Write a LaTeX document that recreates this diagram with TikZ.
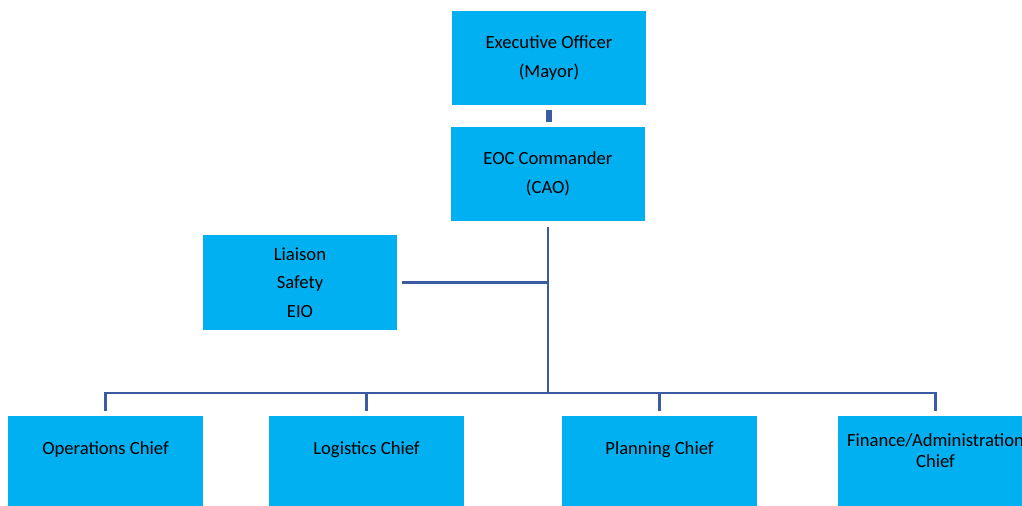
\documentclass[tikz,border=0pt]{standalone}
\usepackage{fontspec}
\setmainfont{Carlito}
\definecolor{boxblue}{HTML}{00B0F0}
\definecolor{linkblue}{HTML}{3B5BA2}
\tikzstyle{unit}=[fill=boxblue, inner sep=0pt, minimum width=3.9cm, minimum height=1.9cm, align=center, font=\fontsize{10.6}{16.4}\selectfont]
\tikzstyle{chief}=[unit, text depth=18pt]
\tikzstyle{link}=[draw=linkblue, line width=1.6pt]

\begin{document}
\begin{tikzpicture}[x=0.02cm, y=-0.02cm]
        \clip (0,0) rectangle (1022,505);
        \node[unit] (exec) at (549,58) {Executive Officer\\(Mayor)};
        \node[unit] (eoc) at (548,174) {EOC Commander\\(CAO)};
        \node[unit] (staff) at (300,282.5) {Liaison\\Safety\\EIO};
        \node[chief] (ops) at (105.5,463.5) {Operations Chief};
        \node[chief] (log) at (366.5,463.5) {Logistics Chief};
        \node[chief] (plan) at (659.5,463.5) {Planning Chief};
        \node[chief, text depth=15pt, font=\fontsize{10.6}{12}\selectfont] (fin) at (935.5,463.5) {Finance/Administration\\Chief};
        \coordinate (busy) at (0,393);
        \coordinate (bus) at (eoc.south |- busy);
        \coordinate (hub) at (eoc.south |- staff.east);
        \draw[link, line width=3pt, shorten <=2.3pt, shorten >=2.3pt] (exec.south) -- (exec.south |- eoc.north);
        \draw[link, shorten <=2.8pt] (eoc.south) -- (bus);
        \draw[link, shorten <=2.3pt] (staff.east) -- (hub);
        \draw[link, shorten <=2.8pt, shorten >=2.8pt] (ops.north) |- (bus) -| (fin.north);
        \foreach \n in {log, plan}
            \draw[link, shorten >=2.8pt] (\n.north |- busy) -- (\n.north);
    \end{tikzpicture}
\end{document}
